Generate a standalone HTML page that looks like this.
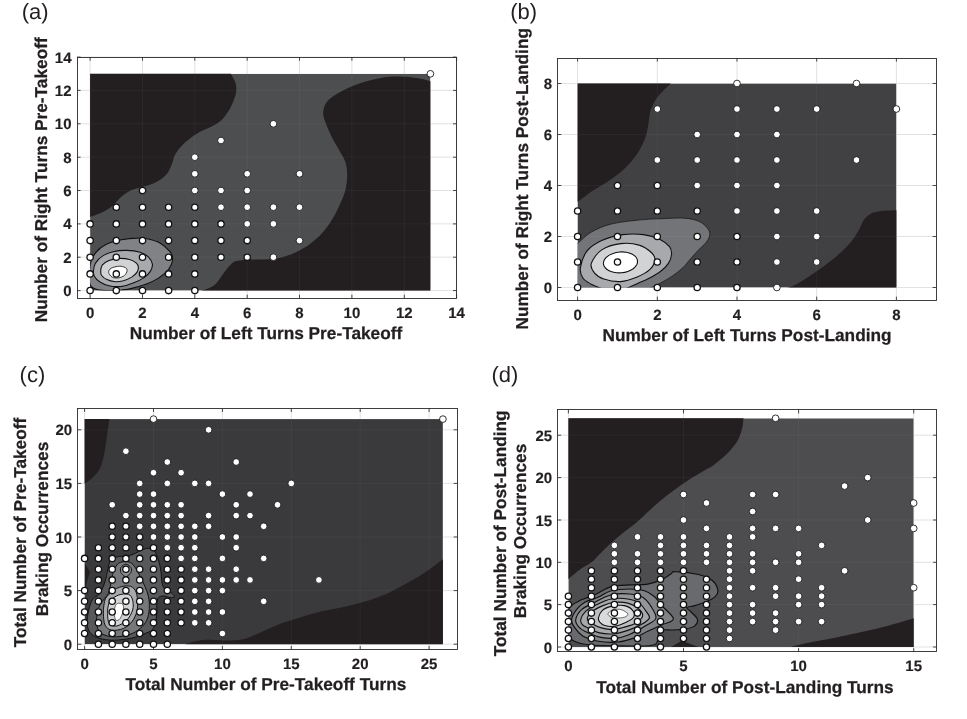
<!DOCTYPE html>
<html><head><meta charset="utf-8"><title>Figure</title>
<style>
html,body{margin:0;padding:0;background:#fff;}
svg{display:block;will-change:transform;}
text{font-family:"Liberation Sans",sans-serif;fill:#231f20;text-rendering:geometricPrecision;}
.tk text{font-size:15px;font-weight:bold;stroke:#231f20;stroke-width:0.15px;}
.al{font-size:17.25px;font-weight:bold;stroke:#231f20;stroke-width:0.25px;}
.pl{font-size:22px;}
</style></head><body>
<svg width="967" height="719" viewBox="0 0 967 719">
<rect width="967" height="719" fill="#fff"/>
<clipPath id="clipa"><rect x="90.1" y="73.8" width="340.3" height="216.8"/></clipPath>
<path d="M90.1 57.1V298.3M142.5 57.1V298.3M194.8 57.1V298.3M247.2 57.1V298.3M299.5 57.1V298.3M351.9 57.1V298.3M404.3 57.1V298.3M456.6 57.1V298.3M77.0 290.6H456.6M77.0 257.2H456.6M77.0 223.9H456.6M77.0 190.5H456.6M77.0 157.2H456.6M77.0 123.8H456.6M77.0 90.4H456.6M77.0 57.1H456.6" stroke="#e2e2e2" stroke-width="1" fill="none"/>
<g clip-path="url(#clipa)">
<rect x="90.1" y="73.8" width="340.3" height="216.8" fill="#4d4e50"/>
<path d="M231.0 74.0C231.8 75.5 234.6 80.0 235.5 83.0C236.4 86.0 236.6 88.5 236.2 91.7C235.8 94.9 234.4 98.5 233.0 102.0C231.6 105.5 230.0 109.1 227.5 112.6C225.0 116.1 223.1 119.5 218.0 123.0C212.9 126.5 202.9 129.9 197.2 133.4C191.5 136.9 187.3 140.3 183.7 143.8C180.0 147.3 177.3 150.8 175.3 154.3C173.3 157.8 173.2 161.2 171.6 164.7C170.0 168.2 168.9 172.0 165.9 175.1C162.9 178.2 159.0 181.1 153.4 183.5C147.8 185.9 137.8 187.6 132.6 189.7C127.4 191.8 125.6 193.3 122.1 196.1C118.6 198.9 115.2 203.7 111.7 206.5C108.2 209.3 104.8 211.1 101.3 212.8C97.8 214.5 92.2 216.2 90.4 216.9L85.0 216.9L85.0 70.0L231.0 70.0Z" fill="#231f20"/>
<path d="M430.6 81.3C428.6 80.8 424.3 79.0 418.5 78.2C412.7 77.4 402.9 76.3 395.6 76.5C388.3 76.7 381.7 77.7 374.7 79.2C367.7 80.7 360.1 83.1 353.8 85.5C347.6 87.9 341.7 91.0 337.2 93.8C332.7 96.6 329.0 99.0 326.7 102.1C324.4 105.2 323.4 109.1 323.2 112.6C323.0 116.1 324.2 118.8 325.7 123.0C327.2 127.2 329.6 132.7 332.0 137.6C334.4 142.5 338.1 148.0 340.3 152.2C342.6 156.4 344.4 158.8 345.5 162.6C346.6 166.4 347.2 170.6 347.2 175.1C347.2 179.6 346.6 185.0 345.5 189.7C344.4 194.4 342.4 198.7 340.3 203.4C338.2 208.1 335.9 213.1 333.0 218.0C330.1 222.9 326.4 228.3 322.6 232.6C318.8 236.9 314.5 240.7 310.0 244.0C305.5 247.3 300.4 250.1 295.5 252.4C290.6 254.7 285.5 256.5 280.9 257.6C276.3 258.7 272.1 258.9 268.0 259.2C263.9 259.5 259.4 259.5 256.0 259.6C252.6 259.7 250.3 259.5 247.3 259.7C244.3 259.9 240.4 260.3 238.0 260.8C235.6 261.3 235.0 260.9 232.7 262.8C230.4 264.7 227.1 268.7 224.3 272.2C221.5 275.7 218.7 281.0 216.0 283.7C213.3 286.4 210.4 287.4 208.0 288.6C205.6 289.8 202.5 290.4 201.4 290.8L201.4 295.0L436.0 295.0L436.0 81.3Z" fill="#231f20"/>
<path d="M90.3 264.1C91.3 259.0 92.9 256.0 95.5 252.8C98.1 249.5 101.5 246.6 105.9 244.5C110.2 242.3 116.2 240.9 121.4 239.8C126.5 238.8 132.6 238.2 136.9 238.1C141.2 237.9 143.3 237.9 147.2 238.8C151.2 239.7 156.9 241.3 160.7 243.4C164.5 245.6 168.0 249.3 170.0 251.7C172.0 254.1 172.4 255.7 172.6 257.9C172.7 260.2 172.1 262.7 171.0 265.2C169.9 267.6 168.1 270.2 165.8 272.4C163.6 274.6 160.7 276.7 157.6 278.6C154.5 280.5 151.5 282.1 147.2 283.8C142.9 285.4 136.0 287.4 131.7 288.4C127.4 289.5 125.7 289.6 121.4 290.0C117.1 290.3 110.2 290.7 105.9 290.5C101.5 290.3 98.2 290.1 95.5 288.9C92.8 287.8 90.7 287.9 89.8 283.8C89.0 279.6 89.4 269.3 90.3 264.1Z" fill="#808285" stroke="#111" stroke-width="1.1"/>
<path d="M93.4 271.4C93.6 269.1 94.0 265.7 95.5 263.1C97.1 260.5 99.8 257.7 102.8 255.9C105.7 254.0 109.1 252.6 113.1 251.7C117.1 250.8 122.1 250.3 126.5 250.4C131.0 250.5 136.4 251.1 140.0 252.2C143.6 253.3 146.2 254.9 148.3 256.9C150.3 258.9 152.0 261.7 152.4 264.1C152.7 266.5 151.7 269.1 150.3 271.4C148.9 273.6 146.9 275.7 144.1 277.6C141.4 279.5 137.6 281.3 133.8 282.7C130.0 284.2 125.5 285.8 121.4 286.4C117.2 286.9 112.6 286.6 109.0 285.8C105.3 285.1 102.1 283.3 99.6 281.7C97.2 280.2 95.5 278.3 94.5 276.5C93.4 274.8 93.3 273.6 93.4 271.4Z" fill="#a7a9ac" stroke="#111" stroke-width="1.1"/>
<path d="M100.7 271.4C100.8 269.6 100.9 267.0 102.2 265.2C103.6 263.4 106.1 261.6 109.0 260.5C111.8 259.4 115.8 258.6 119.3 258.4C122.7 258.3 126.8 258.7 129.6 259.5C132.5 260.2 134.9 261.8 136.4 263.1C137.8 264.4 138.3 265.7 138.4 267.2C138.5 268.8 138.0 270.8 136.9 272.4C135.8 274.0 133.9 275.7 131.7 277.1C129.5 278.4 126.2 279.9 123.4 280.7C120.7 281.4 117.9 281.9 115.2 281.7C112.4 281.5 109.1 280.7 106.9 279.6C104.6 278.6 102.8 276.9 101.7 275.5C100.7 274.1 100.6 273.1 100.7 271.4Z" fill="#d1d3d4" stroke="#111" stroke-width="1.1"/>
<path d="M108.7 272.4C108.6 270.9 109.3 269.3 111.0 268.3C112.8 267.2 116.9 266.3 119.3 266.2C121.7 266.1 124.2 267.0 125.5 267.7C126.8 268.5 127.2 269.6 127.1 270.8C126.9 272.1 125.9 274.3 124.5 275.5C123.0 276.7 120.3 277.6 118.3 277.9C116.2 278.1 113.6 278.0 112.1 277.1C110.5 276.1 108.9 273.9 108.7 272.4Z" fill="#ffffff" stroke="#111" stroke-width="0.8"/>
<path d="M90.1 57.1V298.3M142.5 57.1V298.3M194.8 57.1V298.3M247.2 57.1V298.3M299.5 57.1V298.3M351.9 57.1V298.3M404.3 57.1V298.3M456.6 57.1V298.3M77.0 290.6H456.6M77.0 257.2H456.6M77.0 223.9H456.6M77.0 190.5H456.6M77.0 157.2H456.6M77.0 123.8H456.6M77.0 90.4H456.6M77.0 57.1H456.6" stroke="#ffffff" stroke-opacity="0.04" stroke-width="1" fill="none"/>
</g>
<rect x="77.5" y="57.5" width="379.0" height="241.0" fill="none" stroke="#2b2b2b" stroke-width="0.9"/>
<path d="M90.1 298.3v-3.6M90.1 57.1v3.6M142.5 298.3v-3.6M142.5 57.1v3.6M194.8 298.3v-3.6M194.8 57.1v3.6M247.2 298.3v-3.6M247.2 57.1v3.6M299.5 298.3v-3.6M299.5 57.1v3.6M351.9 298.3v-3.6M351.9 57.1v3.6M404.3 298.3v-3.6M404.3 57.1v3.6M456.6 298.3v-3.6M456.6 57.1v3.6M77.0 290.6h3.6M456.6 290.6h-3.6M77.0 257.2h3.6M456.6 257.2h-3.6M77.0 223.9h3.6M456.6 223.9h-3.6M77.0 190.5h3.6M456.6 190.5h-3.6M77.0 157.2h3.6M456.6 157.2h-3.6M77.0 123.8h3.6M456.6 123.8h-3.6M77.0 90.4h3.6M456.6 90.4h-3.6M77.0 57.1h3.6M456.6 57.1h-3.6" stroke="#2b2b2b" stroke-width="0.85" fill="none"/>
<g fill="#fff" stroke="#111" stroke-width="0.85">
<circle cx="273.4" cy="257.2" r="3.35"/>
<circle cx="299.5" cy="240.6" r="3.35"/>
<circle cx="247.2" cy="223.9" r="3.35"/>
<circle cx="273.4" cy="223.9" r="3.35"/>
<circle cx="221.0" cy="207.2" r="3.35"/>
<circle cx="247.2" cy="207.2" r="3.35"/>
<circle cx="273.4" cy="207.2" r="3.35"/>
<circle cx="299.5" cy="207.2" r="3.35"/>
<circle cx="194.8" cy="190.5" r="3.35"/>
<circle cx="221.0" cy="190.5" r="3.35"/>
<circle cx="247.2" cy="190.5" r="3.35"/>
<circle cx="194.8" cy="173.8" r="3.35"/>
<circle cx="247.2" cy="173.8" r="3.35"/>
<circle cx="299.5" cy="173.8" r="3.35"/>
<circle cx="194.8" cy="157.2" r="3.35"/>
<circle cx="221.0" cy="140.5" r="3.35"/>
<circle cx="273.4" cy="123.8" r="3.35"/>
<circle cx="430.4" cy="73.8" r="3.35"/>
</g>
<g fill="#fff" stroke="#111" stroke-width="1.3">
<circle cx="90.1" cy="290.6" r="3.15"/>
<circle cx="116.3" cy="290.6" r="3.15"/>
<circle cx="142.5" cy="290.6" r="3.15"/>
<circle cx="168.6" cy="290.6" r="3.15"/>
<circle cx="194.8" cy="290.6" r="3.15"/>
<circle cx="90.1" cy="273.9" r="3.15"/>
<circle cx="116.3" cy="273.9" r="3.15"/>
<circle cx="142.5" cy="273.9" r="3.15"/>
<circle cx="168.6" cy="273.9" r="3.15"/>
<circle cx="194.8" cy="273.9" r="3.15"/>
<circle cx="90.1" cy="257.2" r="3.15"/>
<circle cx="116.3" cy="257.2" r="3.15"/>
<circle cx="142.5" cy="257.2" r="3.15"/>
<circle cx="168.6" cy="257.2" r="3.15"/>
<circle cx="194.8" cy="257.2" r="3.15"/>
<circle cx="221.0" cy="257.2" r="3.15"/>
<circle cx="247.2" cy="257.2" r="3.15"/>
<circle cx="90.1" cy="240.6" r="3.15"/>
<circle cx="116.3" cy="240.6" r="3.15"/>
<circle cx="142.5" cy="240.6" r="3.15"/>
<circle cx="168.6" cy="240.6" r="3.15"/>
<circle cx="194.8" cy="240.6" r="3.15"/>
<circle cx="221.0" cy="240.6" r="3.15"/>
<circle cx="247.2" cy="240.6" r="3.15"/>
<circle cx="90.1" cy="223.9" r="3.15"/>
<circle cx="116.3" cy="223.9" r="3.15"/>
<circle cx="142.5" cy="223.9" r="3.15"/>
<circle cx="168.6" cy="223.9" r="3.15"/>
<circle cx="194.8" cy="223.9" r="3.15"/>
<circle cx="221.0" cy="223.9" r="3.15"/>
<circle cx="116.3" cy="207.2" r="3.15"/>
<circle cx="142.5" cy="207.2" r="3.15"/>
<circle cx="168.6" cy="207.2" r="3.15"/>
<circle cx="194.8" cy="207.2" r="3.15"/>
<circle cx="142.5" cy="190.5" r="3.15"/>
</g>
<g class="tk">
<text x="90.1" y="317.7" text-anchor="middle">0</text>
<text x="142.5" y="317.7" text-anchor="middle">2</text>
<text x="194.8" y="317.7" text-anchor="middle">4</text>
<text x="247.2" y="317.7" text-anchor="middle">6</text>
<text x="299.5" y="317.7" text-anchor="middle">8</text>
<text x="351.9" y="317.7" text-anchor="middle">10</text>
<text x="404.3" y="317.7" text-anchor="middle">12</text>
<text x="456.6" y="317.7" text-anchor="middle">14</text>
<text x="71.5" y="296.1" text-anchor="end">0</text>
<text x="71.5" y="262.7" text-anchor="end">2</text>
<text x="71.5" y="229.4" text-anchor="end">4</text>
<text x="71.5" y="196.0" text-anchor="end">6</text>
<text x="71.5" y="162.7" text-anchor="end">8</text>
<text x="71.5" y="129.3" text-anchor="end">10</text>
<text x="71.5" y="95.9" text-anchor="end">12</text>
<text x="71.5" y="62.6" text-anchor="end">14</text>
</g>
<clipPath id="clipb"><rect x="577.6" y="83.5" width="318.8" height="204.0"/></clipPath>
<path d="M577.6 58.0V300.2M657.3 58.0V300.2M737.0 58.0V300.2M816.7 58.0V300.2M896.4 58.0V300.2M557.7 287.5H936.2M557.7 236.5H936.2M557.7 185.5H936.2M557.7 134.5H936.2M557.7 83.5H936.2" stroke="#e2e2e2" stroke-width="1" fill="none"/>
<g clip-path="url(#clipb)">
<rect x="577.6" y="83.5" width="318.8" height="204.0" fill="#414042"/>
<path d="M670.5 83.8C668.4 85.9 661.3 92.1 658.0 96.5C654.7 100.9 652.3 105.7 650.7 110.0C649.1 114.3 649.5 118.1 648.6 122.6C647.7 127.1 647.4 132.0 645.5 137.2C643.6 142.4 640.7 148.6 637.2 153.8C633.7 159.0 629.2 164.1 624.7 168.4C620.2 172.8 615.2 176.2 610.0 179.9C604.8 183.6 598.8 186.7 593.4 190.3C588.0 194.0 580.4 199.9 577.8 201.8L570.0 201.8L570.0 80.0L670.5 80.0Z" fill="#231f20"/>
<path d="M896.6 210.2C894.1 210.3 886.0 210.4 881.8 210.9C877.6 211.4 874.3 212.0 871.4 213.4C868.5 214.8 866.2 216.8 864.1 219.6C862.0 222.4 861.2 226.2 858.9 230.0C856.6 233.8 854.0 238.4 850.5 242.6C847.0 246.8 842.5 251.1 838.0 255.1C833.5 259.1 828.6 262.7 823.4 266.5C818.2 270.3 811.6 274.9 806.7 278.0C801.8 281.1 797.7 283.6 794.2 285.3C790.7 287.0 787.3 287.9 785.9 288.4L785.9 295.0L902.0 295.0L902.0 210.2Z" fill="#231f20"/>
<path d="M568.3 249.9C569.8 241.5 573.5 246.6 577.3 243.6C581.1 240.7 585.5 235.4 591.3 232.1C597.1 228.8 603.4 225.9 612.1 223.8C620.8 221.7 634.7 220.5 643.4 219.6C652.1 218.8 657.3 218.8 664.3 218.6C671.2 218.3 679.2 217.6 685.1 218.2C691.0 218.7 695.9 219.9 699.7 221.7C703.6 223.5 706.4 226.8 708.1 229.0C709.7 231.3 710.1 233.0 709.7 235.3C709.4 237.5 708.0 240.0 706.0 242.6C704.0 245.2 700.4 248.0 697.6 250.9C694.9 253.9 691.7 257.5 689.3 260.3C686.9 263.1 685.8 265.0 683.0 267.6C680.3 270.2 676.4 273.3 672.6 275.9C668.8 278.5 663.6 281.3 660.1 283.2C656.6 285.1 655.2 285.7 651.8 287.4C648.3 289.1 647.6 292.1 639.2 293.7C630.9 295.2 613.5 296.8 601.7 296.8C589.9 296.8 573.9 301.5 568.3 293.7C562.8 285.8 566.8 258.2 568.3 249.9Z" fill="#737477" stroke="#111" stroke-width="0.7"/>
<path d="M580.4 267.6C581.1 263.1 583.6 255.4 587.1 250.9C590.7 246.4 595.8 243.2 601.7 240.5C607.6 237.8 615.6 235.6 622.6 234.6C629.5 233.7 637.2 233.8 643.4 234.6C649.7 235.4 655.8 237.4 660.1 239.4C664.4 241.5 667.6 244.3 669.5 246.7C671.4 249.2 671.7 251.3 671.6 254.0C671.4 256.8 670.4 260.5 668.4 263.4C666.5 266.4 663.6 269.2 660.1 271.8C656.6 274.4 652.5 276.6 647.6 279.1C642.7 281.5 635.4 284.4 630.9 286.4C626.4 288.3 624.3 289.8 620.5 290.5C616.7 291.2 611.4 291.0 608.0 290.5C604.5 290.1 602.4 288.9 599.6 287.8C596.8 286.8 594.1 285.9 591.3 284.3C588.5 282.6 584.7 280.8 582.9 278.0C581.1 275.2 579.7 272.1 580.4 267.6Z" fill="#a7a9ac" stroke="#111" stroke-width="1.1"/>
<path d="M591.3 263.4C592.5 259.6 596.8 253.2 601.7 249.9C606.6 246.6 614.2 244.4 620.5 243.6C626.7 242.8 634.0 243.5 639.2 245.1C644.5 246.6 649.2 250.5 651.8 253.0C654.4 255.5 655.2 257.5 654.9 260.3C654.5 263.1 652.6 266.9 649.7 269.7C646.7 272.5 642.0 275.0 637.2 277.0C632.3 279.0 626.0 281.2 620.5 281.6C614.9 281.9 608.1 280.5 603.8 279.1C599.5 277.6 596.5 275.4 594.4 272.8C592.3 270.2 590.1 267.2 591.3 263.4Z" fill="#d1d3d4" stroke="#111" stroke-width="1.1"/>
<path d="M637.5 260.9C637.6 262.2 637.3 263.7 636.6 265.0C635.8 266.3 634.6 267.6 633.2 268.7C631.7 269.7 629.8 270.7 627.8 271.4C625.9 272.1 623.6 272.6 621.4 272.8C619.2 273.0 616.9 272.9 614.8 272.5C612.7 272.2 610.7 271.6 609.1 270.8C607.5 270.0 606.0 268.9 605.1 267.7C604.1 266.6 603.6 265.2 603.4 263.9C603.3 262.5 603.7 261.1 604.4 259.8C605.1 258.5 606.3 257.2 607.8 256.1C609.2 255.0 611.2 254.0 613.1 253.4C615.1 252.7 617.4 252.2 619.6 252.0C621.7 251.8 624.1 251.9 626.2 252.2C628.2 252.5 630.3 253.2 631.9 254.0C633.5 254.8 634.9 255.9 635.9 257.0C636.8 258.2 637.4 259.6 637.5 260.9Z" fill="#ffffff" stroke="#111" stroke-width="1.1"/>
<path d="M577.6 58.0V300.2M657.3 58.0V300.2M737.0 58.0V300.2M816.7 58.0V300.2M896.4 58.0V300.2M557.7 287.5H936.2M557.7 236.5H936.2M557.7 185.5H936.2M557.7 134.5H936.2M557.7 83.5H936.2" stroke="#ffffff" stroke-opacity="0.04" stroke-width="1" fill="none"/>
</g>
<rect x="557.5" y="58.5" width="379.0" height="242.0" fill="none" stroke="#2b2b2b" stroke-width="0.9"/>
<path d="M577.6 300.2v-3.6M577.6 58.0v3.6M657.3 300.2v-3.6M657.3 58.0v3.6M737.0 300.2v-3.6M737.0 58.0v3.6M816.7 300.2v-3.6M816.7 58.0v3.6M896.4 300.2v-3.6M896.4 58.0v3.6M557.7 287.5h3.6M936.2 287.5h-3.6M557.7 236.5h3.6M936.2 236.5h-3.6M557.7 185.5h3.6M936.2 185.5h-3.6M557.7 134.5h3.6M936.2 134.5h-3.6M557.7 83.5h3.6M936.2 83.5h-3.6" stroke="#2b2b2b" stroke-width="0.85" fill="none"/>
<g fill="#fff" stroke="#111" stroke-width="0.85">
<circle cx="737.0" cy="83.5" r="3.35"/>
<circle cx="856.5" cy="83.5" r="3.35"/>
<circle cx="657.3" cy="109.0" r="3.35"/>
<circle cx="737.0" cy="109.0" r="3.35"/>
<circle cx="776.9" cy="109.0" r="3.35"/>
<circle cx="816.7" cy="109.0" r="3.35"/>
<circle cx="896.4" cy="109.0" r="3.35"/>
<circle cx="697.2" cy="134.5" r="3.35"/>
<circle cx="737.0" cy="134.5" r="3.35"/>
<circle cx="776.9" cy="134.5" r="3.35"/>
<circle cx="657.3" cy="160.0" r="3.35"/>
<circle cx="697.2" cy="160.0" r="3.35"/>
<circle cx="737.0" cy="160.0" r="3.35"/>
<circle cx="776.9" cy="160.0" r="3.35"/>
<circle cx="856.5" cy="160.0" r="3.35"/>
<circle cx="697.2" cy="185.5" r="3.35"/>
<circle cx="737.0" cy="185.5" r="3.35"/>
<circle cx="776.9" cy="185.5" r="3.35"/>
<circle cx="737.0" cy="211.0" r="3.35"/>
<circle cx="776.9" cy="211.0" r="3.35"/>
<circle cx="816.7" cy="211.0" r="3.35"/>
<circle cx="776.9" cy="236.5" r="3.35"/>
<circle cx="816.7" cy="236.5" r="3.35"/>
<circle cx="776.9" cy="262.0" r="3.35"/>
<circle cx="816.7" cy="262.0" r="3.35"/>
<circle cx="776.9" cy="287.5" r="3.35"/>
</g>
<g fill="#fff" stroke="#111" stroke-width="1.3">
<circle cx="617.5" cy="185.5" r="3.15"/>
<circle cx="657.3" cy="185.5" r="3.15"/>
<circle cx="577.6" cy="211.0" r="3.15"/>
<circle cx="617.5" cy="211.0" r="3.15"/>
<circle cx="657.3" cy="211.0" r="3.15"/>
<circle cx="697.2" cy="211.0" r="3.15"/>
<circle cx="577.6" cy="236.5" r="3.15"/>
<circle cx="617.5" cy="236.5" r="3.15"/>
<circle cx="657.3" cy="236.5" r="3.15"/>
<circle cx="697.2" cy="236.5" r="3.15"/>
<circle cx="737.0" cy="236.5" r="3.15"/>
<circle cx="577.6" cy="262.0" r="3.15"/>
<circle cx="617.5" cy="262.0" r="3.15"/>
<circle cx="657.3" cy="262.0" r="3.15"/>
<circle cx="697.2" cy="262.0" r="3.15"/>
<circle cx="737.0" cy="262.0" r="3.15"/>
<circle cx="577.6" cy="287.5" r="3.15"/>
<circle cx="617.5" cy="287.5" r="3.15"/>
<circle cx="657.3" cy="287.5" r="3.15"/>
<circle cx="697.2" cy="287.5" r="3.15"/>
<circle cx="737.0" cy="287.5" r="3.15"/>
</g>
<g class="tk">
<text x="577.6" y="319.6" text-anchor="middle">0</text>
<text x="657.3" y="319.6" text-anchor="middle">2</text>
<text x="737.0" y="319.6" text-anchor="middle">4</text>
<text x="816.7" y="319.6" text-anchor="middle">6</text>
<text x="896.4" y="319.6" text-anchor="middle">8</text>
<text x="552.2" y="293.0" text-anchor="end">0</text>
<text x="552.2" y="242.0" text-anchor="end">2</text>
<text x="552.2" y="191.0" text-anchor="end">4</text>
<text x="552.2" y="140.0" text-anchor="end">6</text>
<text x="552.2" y="89.0" text-anchor="end">8</text>
</g>
<clipPath id="clipc"><rect x="84.6" y="419.1" width="358.3" height="225.1"/></clipPath>
<path d="M84.6 408.4V649.6M153.5 408.4V649.6M222.4 408.4V649.6M291.3 408.4V649.6M360.2 408.4V649.6M429.1 408.4V649.6M77.7 644.2H457.3M77.7 590.6H457.3M77.7 537.0H457.3M77.7 483.4H457.3M77.7 429.8H457.3" stroke="#e2e2e2" stroke-width="1" fill="none"/>
<g clip-path="url(#clipc)">
<rect x="84.6" y="419.1" width="358.3" height="225.1" fill="#3a3a3c"/>
<path d="M109.5 418.2C109.2 420.6 108.3 426.7 107.4 432.6C106.5 438.5 105.5 447.5 104.3 453.4C103.1 459.3 101.8 464.2 100.1 468.0C98.3 471.8 96.4 473.8 93.8 476.4C91.2 479.0 86.1 482.5 84.6 483.7L80.0 483.7L80.0 414.0L109.5 414.0Z" fill="#231f20"/>
<path d="M185.5 644.4C186.9 643.9 190.7 642.4 193.8 641.6C196.9 640.9 199.1 640.1 204.3 639.9C209.5 639.7 218.8 640.6 225.1 640.5C231.3 640.4 236.6 640.5 241.8 639.5C247.0 638.5 250.5 636.7 256.4 634.3C262.3 631.9 270.0 627.7 277.3 624.9C284.6 622.1 292.6 619.9 300.0 617.6C307.4 615.3 314.6 613.0 321.7 611.3C328.8 609.6 335.7 608.8 342.6 607.2C349.6 605.7 356.4 604.1 363.4 602.0C370.3 599.9 377.4 597.7 384.3 594.7C391.2 591.7 398.2 588.0 405.1 584.2C412.1 580.4 419.7 575.9 426.0 571.7C432.3 567.5 440.2 561.3 443.1 559.2L448.0 559.2L448.0 650.0L185.5 650.0Z" fill="#231f20"/>
<path d="M84.6 563.0L90.0 572.0L87.0 582.0L84.6 592.0Z" fill="#231f20"/>
<path d="M148.5 548.4C150.5 548.5 152.6 548.9 154.3 550.9C156.0 552.8 157.4 556.6 158.5 560.1C159.6 563.5 160.4 568.1 161.0 571.7C161.5 575.4 161.3 579.0 161.8 581.8C162.4 584.5 162.8 586.6 164.3 588.4C165.8 590.2 169.3 591.2 171.0 592.6C172.7 594.0 174.8 595.9 174.7 596.8C174.5 597.6 172.0 597.8 170.2 597.6C168.3 597.5 165.4 595.9 163.5 595.9C161.5 595.9 159.6 596.4 158.5 597.6C157.4 598.9 157.1 600.8 156.8 603.5C156.5 606.1 157.1 610.1 156.8 613.5C156.5 616.8 156.0 620.7 155.1 623.5C154.3 626.3 153.5 628.5 151.8 630.2C150.1 631.8 147.6 632.4 145.1 633.5C142.6 634.6 140.1 635.9 136.8 636.8C133.4 637.8 129.3 638.8 125.1 639.3C120.9 639.9 115.9 640.3 111.7 640.2C107.6 640.0 103.4 639.5 100.0 638.5C96.7 637.5 93.8 636.3 91.7 634.3C89.6 632.4 88.2 629.7 87.5 626.8C86.8 623.9 87.1 620.4 87.5 616.8C87.9 613.2 89.1 608.2 90.0 605.1C91.0 602.1 92.0 600.1 93.4 598.4C94.8 596.8 96.8 596.8 98.4 595.1C99.9 593.4 101.3 591.2 102.5 588.4C103.8 585.6 104.9 582.0 105.9 578.4C106.9 574.8 107.6 569.8 108.4 566.7C109.2 563.7 109.2 561.7 110.9 560.1C112.6 558.4 115.5 557.4 118.4 556.7C121.3 556.0 125.6 556.4 128.4 555.9C131.2 555.3 132.9 554.3 135.1 553.4C137.3 552.4 139.6 550.9 141.8 550.0C144.0 549.2 146.4 548.2 148.5 548.4Z" fill="#58595b" stroke="#111" stroke-width="1.0"/>
<path d="M125.9 561.7C123.7 561.7 120.5 561.7 118.4 563.4C116.3 565.1 114.6 568.4 113.4 571.7C112.1 575.1 111.7 579.8 110.9 583.4C110.1 587.0 109.6 590.7 108.4 593.4C107.1 596.2 105.1 597.6 103.4 600.1C101.7 602.6 99.5 605.1 98.4 608.5C97.3 611.8 96.7 616.5 96.7 620.2C96.7 623.8 97.0 627.7 98.4 630.2C99.8 632.7 102.0 634.1 105.1 635.2C108.1 636.3 112.6 637.0 116.7 636.8C120.9 636.7 126.2 635.7 130.1 634.3C134.0 632.9 137.3 630.9 140.1 628.5C142.9 626.1 145.3 623.5 146.8 620.2C148.3 616.8 149.0 612.4 149.3 608.5C149.6 604.6 149.2 600.4 148.5 596.8C147.8 593.2 146.4 589.8 145.1 586.8C143.9 583.7 142.3 581.2 140.9 578.4C139.6 575.6 138.3 572.6 136.8 570.1C135.2 567.6 133.6 564.8 131.8 563.4C130.0 562.0 128.1 561.7 125.9 561.7Z" fill="#77787b" stroke="#111" stroke-width="1.0"/>
<path d="M125.9 564.2C127.6 564.2 130.1 566.2 130.9 567.6C131.8 569.0 131.5 571.2 130.9 572.6C130.4 574.0 128.4 574.7 127.6 575.9C126.8 577.2 126.5 580.1 125.9 580.1C125.4 580.1 125.1 577.2 124.2 575.9C123.4 574.7 121.5 574.0 120.9 572.6C120.4 571.2 120.1 569.0 120.9 567.6C121.7 566.2 124.2 564.2 125.9 564.2Z" fill="#8a8c8e" stroke="#111" stroke-width="1.0"/>
<path d="M106.7 596.8C108.8 594.3 113.1 590.2 116.7 588.4C120.4 586.6 125.4 585.6 128.4 585.9C131.5 586.2 133.6 587.7 135.1 590.1C136.6 592.5 137.3 596.5 137.6 600.1C137.9 603.7 137.7 608.2 136.8 611.8C135.8 615.4 134.0 619.0 131.8 621.8C129.5 624.6 126.8 627.1 123.4 628.5C120.1 629.9 114.8 630.7 111.7 630.2C108.7 629.6 106.4 627.9 105.1 625.2C103.7 622.4 103.5 617.1 103.4 613.5C103.2 609.9 103.7 606.2 104.2 603.5C104.8 600.7 104.6 599.3 106.7 596.8Z" fill="#a7a9ac" stroke="#111" stroke-width="1.0"/>
<path d="M110.9 600.1C112.6 598.4 115.5 596.1 118.4 595.1C121.3 594.1 126.1 593.4 128.4 594.3C130.8 595.1 131.9 597.5 132.6 600.1C133.3 602.8 133.6 606.8 132.6 610.1C131.6 613.5 129.4 617.5 126.8 620.2C124.1 622.8 119.7 625.4 116.7 626.0C113.8 626.5 110.8 625.6 109.2 623.5C107.7 621.4 107.7 616.5 107.6 613.5C107.4 610.4 107.8 607.4 108.4 605.1C108.9 602.9 109.2 601.8 110.9 600.1Z" fill="#d1d3d4" stroke="#111" stroke-width="1.0"/>
<path d="M117.6 603.5C118.8 603.0 121.6 603.2 122.6 604.3C123.6 605.4 123.8 607.8 123.4 610.1C123.0 612.5 121.3 616.8 120.1 618.5C118.8 620.2 116.9 621.0 115.9 620.2C114.9 619.3 114.4 615.7 114.2 613.5C114.1 611.2 114.5 608.5 115.1 606.8C115.6 605.1 116.3 603.9 117.6 603.5Z" fill="#ffffff" stroke="#111" stroke-width="0.6"/>
<path d="M84.6 408.4V649.6M153.5 408.4V649.6M222.4 408.4V649.6M291.3 408.4V649.6M360.2 408.4V649.6M429.1 408.4V649.6M77.7 644.2H457.3M77.7 590.6H457.3M77.7 537.0H457.3M77.7 483.4H457.3M77.7 429.8H457.3" stroke="#ffffff" stroke-opacity="0.04" stroke-width="1" fill="none"/>
</g>
<rect x="77.5" y="408.5" width="380.0" height="241.0" fill="none" stroke="#2b2b2b" stroke-width="0.9"/>
<path d="M84.6 649.6v-3.6M84.6 408.4v3.6M153.5 649.6v-3.6M153.5 408.4v3.6M222.4 649.6v-3.6M222.4 408.4v3.6M291.3 649.6v-3.6M291.3 408.4v3.6M360.2 649.6v-3.6M360.2 408.4v3.6M429.1 649.6v-3.6M429.1 408.4v3.6M77.7 644.2h3.6M457.3 644.2h-3.6M77.7 590.6h3.6M457.3 590.6h-3.6M77.7 537.0h3.6M457.3 537.0h-3.6M77.7 483.4h3.6M457.3 483.4h-3.6M77.7 429.8h3.6M457.3 429.8h-3.6" stroke="#2b2b2b" stroke-width="0.85" fill="none"/>
<g fill="#fff" stroke="#111" stroke-width="0.85">
<circle cx="153.5" cy="419.1" r="3.35"/>
<circle cx="442.9" cy="419.1" r="3.35"/>
<circle cx="208.6" cy="429.8" r="3.35"/>
<circle cx="125.9" cy="451.2" r="3.35"/>
<circle cx="167.3" cy="462.0" r="3.35"/>
<circle cx="236.2" cy="462.0" r="3.35"/>
<circle cx="153.5" cy="472.7" r="3.35"/>
<circle cx="181.1" cy="472.7" r="3.35"/>
<circle cx="139.7" cy="483.4" r="3.35"/>
<circle cx="167.3" cy="483.4" r="3.35"/>
<circle cx="194.8" cy="483.4" r="3.35"/>
<circle cx="208.6" cy="483.4" r="3.35"/>
<circle cx="291.3" cy="483.4" r="3.35"/>
<circle cx="139.7" cy="494.1" r="3.35"/>
<circle cx="153.5" cy="494.1" r="3.35"/>
<circle cx="222.4" cy="494.1" r="3.35"/>
<circle cx="250.0" cy="494.1" r="3.35"/>
<circle cx="112.2" cy="504.8" r="3.35"/>
<circle cx="139.7" cy="504.8" r="3.35"/>
<circle cx="153.5" cy="504.8" r="3.35"/>
<circle cx="167.3" cy="504.8" r="3.35"/>
<circle cx="181.1" cy="504.8" r="3.35"/>
<circle cx="236.2" cy="504.8" r="3.35"/>
<circle cx="277.5" cy="504.8" r="3.35"/>
<circle cx="125.9" cy="515.6" r="3.35"/>
<circle cx="139.7" cy="515.6" r="3.35"/>
<circle cx="153.5" cy="515.6" r="3.35"/>
<circle cx="167.3" cy="515.6" r="3.35"/>
<circle cx="181.1" cy="515.6" r="3.35"/>
<circle cx="208.6" cy="515.6" r="3.35"/>
<circle cx="236.2" cy="515.6" r="3.35"/>
<circle cx="250.0" cy="515.6" r="3.35"/>
<circle cx="139.7" cy="526.3" r="3.35"/>
<circle cx="153.5" cy="526.3" r="3.35"/>
<circle cx="167.3" cy="526.3" r="3.35"/>
<circle cx="181.1" cy="526.3" r="3.35"/>
<circle cx="194.8" cy="526.3" r="3.35"/>
<circle cx="208.6" cy="526.3" r="3.35"/>
<circle cx="263.7" cy="526.3" r="3.35"/>
<circle cx="153.5" cy="537.0" r="3.35"/>
<circle cx="167.3" cy="537.0" r="3.35"/>
<circle cx="181.1" cy="537.0" r="3.35"/>
<circle cx="194.8" cy="537.0" r="3.35"/>
<circle cx="222.4" cy="537.0" r="3.35"/>
<circle cx="236.2" cy="537.0" r="3.35"/>
<circle cx="167.3" cy="547.7" r="3.35"/>
<circle cx="181.1" cy="547.7" r="3.35"/>
<circle cx="194.8" cy="547.7" r="3.35"/>
<circle cx="236.2" cy="547.7" r="3.35"/>
<circle cx="181.1" cy="558.4" r="3.35"/>
<circle cx="194.8" cy="558.4" r="3.35"/>
<circle cx="222.4" cy="558.4" r="3.35"/>
<circle cx="263.7" cy="558.4" r="3.35"/>
<circle cx="194.8" cy="569.2" r="3.35"/>
<circle cx="208.6" cy="569.2" r="3.35"/>
<circle cx="236.2" cy="569.2" r="3.35"/>
<circle cx="194.8" cy="579.9" r="3.35"/>
<circle cx="208.6" cy="579.9" r="3.35"/>
<circle cx="222.4" cy="579.9" r="3.35"/>
<circle cx="236.2" cy="579.9" r="3.35"/>
<circle cx="250.0" cy="579.9" r="3.35"/>
<circle cx="318.9" cy="579.9" r="3.35"/>
<circle cx="194.8" cy="590.6" r="3.35"/>
<circle cx="208.6" cy="590.6" r="3.35"/>
<circle cx="222.4" cy="590.6" r="3.35"/>
<circle cx="194.8" cy="601.3" r="3.35"/>
<circle cx="208.6" cy="601.3" r="3.35"/>
<circle cx="263.7" cy="601.3" r="3.35"/>
<circle cx="194.8" cy="612.0" r="3.35"/>
<circle cx="208.6" cy="612.0" r="3.35"/>
<circle cx="222.4" cy="612.0" r="3.35"/>
<circle cx="194.8" cy="622.8" r="3.35"/>
<circle cx="208.6" cy="622.8" r="3.35"/>
<circle cx="222.4" cy="633.5" r="3.35"/>
</g>
<g fill="#fff" stroke="#111" stroke-width="1.3">
<circle cx="112.2" cy="526.3" r="3.15"/>
<circle cx="125.9" cy="526.3" r="3.15"/>
<circle cx="112.2" cy="537.0" r="3.15"/>
<circle cx="125.9" cy="537.0" r="3.15"/>
<circle cx="139.7" cy="537.0" r="3.15"/>
<circle cx="98.4" cy="547.7" r="3.15"/>
<circle cx="112.2" cy="547.7" r="3.15"/>
<circle cx="125.9" cy="547.7" r="3.15"/>
<circle cx="139.7" cy="547.7" r="3.15"/>
<circle cx="153.5" cy="547.7" r="3.15"/>
<circle cx="84.6" cy="558.4" r="3.15"/>
<circle cx="98.4" cy="558.4" r="3.15"/>
<circle cx="112.2" cy="558.4" r="3.15"/>
<circle cx="125.9" cy="558.4" r="3.15"/>
<circle cx="139.7" cy="558.4" r="3.15"/>
<circle cx="153.5" cy="558.4" r="3.15"/>
<circle cx="167.3" cy="558.4" r="3.15"/>
<circle cx="98.4" cy="569.2" r="3.15"/>
<circle cx="112.2" cy="569.2" r="3.15"/>
<circle cx="125.9" cy="569.2" r="3.15"/>
<circle cx="139.7" cy="569.2" r="3.15"/>
<circle cx="153.5" cy="569.2" r="3.15"/>
<circle cx="167.3" cy="569.2" r="3.15"/>
<circle cx="181.1" cy="569.2" r="3.15"/>
<circle cx="98.4" cy="579.9" r="3.15"/>
<circle cx="112.2" cy="579.9" r="3.15"/>
<circle cx="125.9" cy="579.9" r="3.15"/>
<circle cx="139.7" cy="579.9" r="3.15"/>
<circle cx="153.5" cy="579.9" r="3.15"/>
<circle cx="167.3" cy="579.9" r="3.15"/>
<circle cx="181.1" cy="579.9" r="3.15"/>
<circle cx="84.6" cy="590.6" r="3.15"/>
<circle cx="98.4" cy="590.6" r="3.15"/>
<circle cx="112.2" cy="590.6" r="3.15"/>
<circle cx="125.9" cy="590.6" r="3.15"/>
<circle cx="139.7" cy="590.6" r="3.15"/>
<circle cx="153.5" cy="590.6" r="3.15"/>
<circle cx="167.3" cy="590.6" r="3.15"/>
<circle cx="181.1" cy="590.6" r="3.15"/>
<circle cx="84.6" cy="601.3" r="3.15"/>
<circle cx="98.4" cy="601.3" r="3.15"/>
<circle cx="112.2" cy="601.3" r="3.15"/>
<circle cx="125.9" cy="601.3" r="3.15"/>
<circle cx="139.7" cy="601.3" r="3.15"/>
<circle cx="153.5" cy="601.3" r="3.15"/>
<circle cx="167.3" cy="601.3" r="3.15"/>
<circle cx="181.1" cy="601.3" r="3.15"/>
<circle cx="84.6" cy="612.0" r="3.15"/>
<circle cx="98.4" cy="612.0" r="3.15"/>
<circle cx="112.2" cy="612.0" r="3.15"/>
<circle cx="125.9" cy="612.0" r="3.15"/>
<circle cx="139.7" cy="612.0" r="3.15"/>
<circle cx="153.5" cy="612.0" r="3.15"/>
<circle cx="167.3" cy="612.0" r="3.15"/>
<circle cx="181.1" cy="612.0" r="3.15"/>
<circle cx="84.6" cy="622.8" r="3.15"/>
<circle cx="98.4" cy="622.8" r="3.15"/>
<circle cx="112.2" cy="622.8" r="3.15"/>
<circle cx="125.9" cy="622.8" r="3.15"/>
<circle cx="139.7" cy="622.8" r="3.15"/>
<circle cx="153.5" cy="622.8" r="3.15"/>
<circle cx="167.3" cy="622.8" r="3.15"/>
<circle cx="181.1" cy="622.8" r="3.15"/>
<circle cx="84.6" cy="633.5" r="3.15"/>
<circle cx="98.4" cy="633.5" r="3.15"/>
<circle cx="112.2" cy="633.5" r="3.15"/>
<circle cx="125.9" cy="633.5" r="3.15"/>
<circle cx="139.7" cy="633.5" r="3.15"/>
<circle cx="153.5" cy="633.5" r="3.15"/>
<circle cx="167.3" cy="633.5" r="3.15"/>
<circle cx="98.4" cy="644.2" r="3.15"/>
<circle cx="112.2" cy="644.2" r="3.15"/>
<circle cx="125.9" cy="644.2" r="3.15"/>
<circle cx="139.7" cy="644.2" r="3.15"/>
<circle cx="153.5" cy="644.2" r="3.15"/>
<circle cx="167.3" cy="644.2" r="3.15"/>
</g>
<g class="tk">
<text x="84.6" y="669.0" text-anchor="middle">0</text>
<text x="153.5" y="669.0" text-anchor="middle">5</text>
<text x="222.4" y="669.0" text-anchor="middle">10</text>
<text x="291.3" y="669.0" text-anchor="middle">15</text>
<text x="360.2" y="669.0" text-anchor="middle">20</text>
<text x="429.1" y="669.0" text-anchor="middle">25</text>
<text x="72.2" y="649.7" text-anchor="end">0</text>
<text x="72.2" y="596.1" text-anchor="end">5</text>
<text x="72.2" y="542.5" text-anchor="end">10</text>
<text x="72.2" y="488.9" text-anchor="end">15</text>
<text x="72.2" y="435.3" text-anchor="end">20</text>
</g>
<clipPath id="clipd"><rect x="568.4" y="418.3" width="345.3" height="228.7"/></clipPath>
<path d="M568.4 409.8V651.7M683.5 409.8V651.7M798.6 409.8V651.7M913.7 409.8V651.7M557.6 647.0H936.7M557.6 604.6H936.7M557.6 562.3H936.7M557.6 520.0H936.7M557.6 477.6H936.7M557.6 435.2H936.7" stroke="#e2e2e2" stroke-width="1" fill="none"/>
<g clip-path="url(#clipd)">
<rect x="568.4" y="418.3" width="345.3" height="228.7" fill="#4d4d4f"/>
<path d="M743.4 418.2C743.2 419.7 743.3 423.5 742.4 427.1C741.5 430.7 740.5 435.4 738.2 439.6C735.9 443.8 732.8 447.9 728.8 452.1C724.8 456.3 718.3 461.6 714.2 464.7C710.1 467.8 709.1 467.5 704.3 470.4C699.5 473.3 691.9 477.7 685.6 481.9C679.4 486.1 672.4 491.1 666.8 495.5C661.2 499.9 657.1 503.7 652.2 508.0C647.3 512.3 642.5 517.3 637.6 521.5C632.7 525.7 627.5 529.4 623.0 533.0C618.5 536.6 614.3 539.9 610.5 543.4C606.7 546.9 603.1 550.7 600.0 553.8C596.9 556.9 594.8 559.8 591.7 562.2C588.6 564.6 585.2 565.6 581.3 568.4C577.4 571.2 570.5 577.1 568.4 578.9L560.0 578.9L560.0 410.0L743.4 410.0Z" fill="#231f20"/>
<path d="M913.7 618.2C908.9 619.6 895.1 623.9 885.1 626.5C875.1 629.1 864.2 631.5 853.8 633.8C843.4 636.1 831.3 638.4 822.6 640.1C813.9 641.9 806.9 643.2 801.7 644.3C796.5 645.4 793.0 646.4 791.3 646.8L791.3 655.0L920.0 655.0L920.0 618.2Z" fill="#231f20"/>
<path d="M671.0 647.0L681.8 640.7L698.4 647.0Z" fill="#231f20"/>
<path d="M569.1 608.1C571.3 604.4 575.6 602.8 579.8 600.6C584.1 598.4 589.5 597.2 594.7 594.8C600.0 592.5 605.2 588.2 611.3 586.6C617.4 584.9 625.1 585.3 631.2 584.9C637.2 584.5 642.7 584.9 647.7 584.1C652.7 583.2 657.1 581.6 661.0 579.9C664.8 578.3 668.5 575.5 670.9 574.1C673.2 572.7 670.5 571.5 675.0 571.6C679.6 571.6 692.2 573.0 698.4 574.5C704.6 576.0 708.8 577.7 712.0 580.3C715.3 582.9 717.4 587.3 717.9 590.1C718.3 592.8 716.9 594.9 714.9 596.9C713.0 598.8 709.6 600.3 706.2 601.8C702.8 603.2 697.7 604.7 694.5 605.6C691.3 606.6 687.4 606.6 686.7 607.6C686.1 608.6 688.8 609.5 690.6 611.5C692.4 613.4 696.8 616.8 697.4 619.3C698.1 621.7 696.6 624.5 694.5 626.1C692.4 627.7 688.3 628.4 684.8 629.0C681.2 629.7 677.3 629.7 673.1 630.0C668.9 630.3 662.6 628.5 659.5 630.9C656.3 633.4 660.7 642.4 654.3 644.8C648.0 647.3 632.3 645.8 621.2 645.8C610.2 645.8 595.8 645.6 588.1 644.8C580.4 644.1 578.0 643.0 574.9 641.5C571.7 640.1 570.5 639.3 569.1 636.2C567.7 633.1 566.6 627.7 566.6 623.0C566.6 618.3 566.9 611.8 569.1 608.1Z" fill="#696a6d" stroke="#111" stroke-width="1.15"/>
<path d="M571.6 619.7C571.8 616.6 574.3 612.6 576.5 609.7C578.7 606.8 581.2 604.4 584.8 602.3C588.4 600.2 593.6 599.2 598.0 597.3C602.5 595.4 606.0 592.1 611.3 590.7C616.5 589.3 624.0 589.0 629.5 589.0C635.0 589.0 640.3 589.5 644.4 590.7C648.5 591.9 651.3 593.9 654.3 596.5C657.4 599.1 659.4 602.7 662.6 606.4C665.8 610.1 673.4 615.8 673.4 618.8C673.4 621.9 666.9 622.6 662.6 624.6C658.3 626.7 652.4 629.1 647.7 631.3C643.0 633.5 639.4 636.1 634.5 637.9C629.5 639.7 624.0 641.5 617.9 642.0C611.8 642.6 603.8 642.2 598.0 641.2C592.3 640.2 587.0 638.4 583.1 636.2C579.3 634.0 576.8 630.7 574.9 627.9C572.9 625.2 571.3 622.7 571.6 619.7Z" fill="#808285" stroke="#111" stroke-width="1.15"/>
<path d="M575.7 619.7C576.2 616.9 578.6 612.5 581.5 609.7C584.4 607.0 588.1 605.6 593.1 603.1C598.0 600.6 605.2 596.4 611.3 594.8C617.4 593.3 624.3 593.6 629.5 594.0C634.7 594.4 639.2 595.2 642.7 597.3C646.3 599.4 648.8 603.0 651.0 606.4C653.2 609.9 656.5 615.0 656.0 618.0C655.4 621.0 651.6 622.2 647.7 624.6C643.9 627.1 637.8 630.7 632.8 632.9C627.8 635.1 623.4 637.2 617.9 637.9C612.4 638.6 605.2 638.2 599.7 637.1C594.2 635.9 588.4 633.1 584.8 631.3C581.2 629.5 579.7 628.2 578.2 626.3C576.7 624.4 575.1 622.4 575.7 619.7Z" fill="#939598" stroke="#111" stroke-width="1.15"/>
<path d="M580.7 619.7C581.2 617.5 583.0 613.9 585.6 611.4C588.3 608.9 592.1 606.8 596.4 604.8C600.7 602.7 606.0 599.9 611.3 599.0C616.5 598.0 623.2 598.3 627.8 599.0C632.5 599.7 636.4 601.0 639.4 603.1C642.5 605.2 644.4 608.9 646.1 611.4C647.7 613.9 650.2 615.8 649.4 618.0C648.5 620.2 644.7 622.6 641.1 624.6C637.5 626.7 632.3 628.9 627.8 630.4C623.4 631.9 619.3 633.3 614.6 633.7C609.9 634.2 604.1 633.9 599.7 632.9C595.3 631.9 591.0 629.3 588.1 627.9C585.2 626.6 583.6 626.0 582.3 624.6C581.1 623.3 580.1 621.9 580.7 619.7Z" fill="#a7a9ac" stroke="#111" stroke-width="1.15"/>
<path d="M587.3 618.8C587.3 616.8 589.6 613.6 592.3 611.4C594.9 609.2 599.3 607.1 603.0 605.6C606.7 604.1 610.5 602.7 614.6 602.3C618.7 601.9 624.0 602.1 627.8 603.1C631.7 604.1 635.3 606.0 637.8 608.1C640.3 610.1 643.0 613.0 642.7 615.5C642.5 618.0 639.2 621.0 636.1 623.0C633.1 624.9 628.4 626.0 624.5 627.1C620.7 628.2 616.8 629.5 612.9 629.6C609.1 629.7 604.8 628.9 601.4 627.9C597.9 627.0 594.6 625.3 592.3 623.8C589.9 622.3 587.3 620.9 587.3 618.8Z" fill="#bcbec0" stroke="#111" stroke-width="1.15"/>
<path d="M598.4 618.0C598.8 616.1 600.0 612.5 602.2 610.6C604.3 608.6 607.6 607.3 611.3 606.4C615.0 605.6 620.9 604.9 624.5 605.6C628.1 606.3 631.3 608.6 632.8 610.6C634.3 612.5 634.7 615.3 633.6 617.2C632.5 619.1 629.4 620.6 626.2 622.2C623.0 623.7 618.2 625.7 614.6 626.3C611.0 626.8 607.2 626.2 604.7 625.5C602.2 624.8 600.8 623.4 599.7 622.2C598.7 620.9 598.0 619.9 598.4 618.0Z" fill="#d9dadb" stroke="#111" stroke-width="1.15"/>
<path d="M608.0 613.9C608.3 612.6 610.7 610.4 612.9 609.7C615.2 609.0 618.7 609.0 621.2 609.7C623.7 610.4 627.3 612.6 627.8 613.9C628.4 615.1 626.5 616.5 624.5 617.2C622.6 617.9 618.5 618.0 616.3 618.0C614.1 618.0 612.7 617.9 611.3 617.2C609.9 616.5 607.7 615.1 608.0 613.9Z" fill="#ffffff" stroke="#111" stroke-width="0.6"/>
<path d="M568.4 409.8V651.7M683.5 409.8V651.7M798.6 409.8V651.7M913.7 409.8V651.7M557.6 647.0H936.7M557.6 604.6H936.7M557.6 562.3H936.7M557.6 520.0H936.7M557.6 477.6H936.7M557.6 435.2H936.7" stroke="#ffffff" stroke-opacity="0.04" stroke-width="1" fill="none"/>
</g>
<rect x="557.5" y="409.5" width="379.0" height="242.0" fill="none" stroke="#2b2b2b" stroke-width="0.9"/>
<path d="M568.4 651.7v-3.6M568.4 409.8v3.6M683.5 651.7v-3.6M683.5 409.8v3.6M798.6 651.7v-3.6M798.6 409.8v3.6M913.7 651.7v-3.6M913.7 409.8v3.6M557.6 647.0h3.6M936.7 647.0h-3.6M557.6 604.6h3.6M936.7 604.6h-3.6M557.6 562.3h3.6M936.7 562.3h-3.6M557.6 520.0h3.6M936.7 520.0h-3.6M557.6 477.6h3.6M936.7 477.6h-3.6M557.6 435.2h3.6M936.7 435.2h-3.6" stroke="#2b2b2b" stroke-width="0.85" fill="none"/>
<g fill="#fff" stroke="#111" stroke-width="0.85">
<circle cx="614.4" cy="562.3" r="3.35"/>
<circle cx="614.4" cy="553.8" r="3.35"/>
<circle cx="614.4" cy="545.4" r="3.35"/>
<circle cx="637.5" cy="562.3" r="3.35"/>
<circle cx="637.5" cy="553.8" r="3.35"/>
<circle cx="637.5" cy="536.9" r="3.35"/>
<circle cx="660.5" cy="562.3" r="3.35"/>
<circle cx="660.5" cy="553.8" r="3.35"/>
<circle cx="660.5" cy="545.4" r="3.35"/>
<circle cx="660.5" cy="536.9" r="3.35"/>
<circle cx="683.5" cy="562.3" r="3.35"/>
<circle cx="683.5" cy="553.8" r="3.35"/>
<circle cx="683.5" cy="545.4" r="3.35"/>
<circle cx="683.5" cy="536.9" r="3.35"/>
<circle cx="683.5" cy="520.0" r="3.35"/>
<circle cx="683.5" cy="494.5" r="3.35"/>
<circle cx="706.5" cy="562.3" r="3.35"/>
<circle cx="706.5" cy="553.8" r="3.35"/>
<circle cx="706.5" cy="545.4" r="3.35"/>
<circle cx="706.5" cy="528.4" r="3.35"/>
<circle cx="706.5" cy="503.0" r="3.35"/>
<circle cx="729.5" cy="638.5" r="3.35"/>
<circle cx="729.5" cy="630.1" r="3.35"/>
<circle cx="729.5" cy="621.6" r="3.35"/>
<circle cx="729.5" cy="613.1" r="3.35"/>
<circle cx="729.5" cy="604.6" r="3.35"/>
<circle cx="729.5" cy="596.2" r="3.35"/>
<circle cx="729.5" cy="587.7" r="3.35"/>
<circle cx="729.5" cy="579.2" r="3.35"/>
<circle cx="729.5" cy="570.8" r="3.35"/>
<circle cx="729.5" cy="562.3" r="3.35"/>
<circle cx="729.5" cy="553.8" r="3.35"/>
<circle cx="729.5" cy="545.4" r="3.35"/>
<circle cx="729.5" cy="536.9" r="3.35"/>
<circle cx="752.6" cy="621.6" r="3.35"/>
<circle cx="752.6" cy="613.1" r="3.35"/>
<circle cx="752.6" cy="604.6" r="3.35"/>
<circle cx="752.6" cy="587.7" r="3.35"/>
<circle cx="752.6" cy="570.8" r="3.35"/>
<circle cx="752.6" cy="562.3" r="3.35"/>
<circle cx="752.6" cy="553.8" r="3.35"/>
<circle cx="752.6" cy="536.9" r="3.35"/>
<circle cx="752.6" cy="528.4" r="3.35"/>
<circle cx="752.6" cy="511.5" r="3.35"/>
<circle cx="752.6" cy="494.5" r="3.35"/>
<circle cx="775.6" cy="630.1" r="3.35"/>
<circle cx="775.6" cy="621.6" r="3.35"/>
<circle cx="775.6" cy="613.1" r="3.35"/>
<circle cx="775.6" cy="596.2" r="3.35"/>
<circle cx="775.6" cy="587.7" r="3.35"/>
<circle cx="775.6" cy="562.3" r="3.35"/>
<circle cx="775.6" cy="528.4" r="3.35"/>
<circle cx="775.6" cy="494.5" r="3.35"/>
<circle cx="775.6" cy="418.3" r="3.35"/>
<circle cx="798.6" cy="621.6" r="3.35"/>
<circle cx="798.6" cy="604.6" r="3.35"/>
<circle cx="798.6" cy="596.2" r="3.35"/>
<circle cx="798.6" cy="579.2" r="3.35"/>
<circle cx="798.6" cy="562.3" r="3.35"/>
<circle cx="798.6" cy="553.8" r="3.35"/>
<circle cx="798.6" cy="528.4" r="3.35"/>
<circle cx="821.6" cy="621.6" r="3.35"/>
<circle cx="821.6" cy="604.6" r="3.35"/>
<circle cx="821.6" cy="596.2" r="3.35"/>
<circle cx="821.6" cy="587.7" r="3.35"/>
<circle cx="821.6" cy="545.4" r="3.35"/>
<circle cx="844.6" cy="570.8" r="3.35"/>
<circle cx="844.6" cy="486.1" r="3.35"/>
<circle cx="867.7" cy="520.0" r="3.35"/>
<circle cx="867.7" cy="477.6" r="3.35"/>
<circle cx="913.7" cy="587.7" r="3.35"/>
<circle cx="913.7" cy="528.4" r="3.35"/>
<circle cx="913.7" cy="503.0" r="3.35"/>
</g>
<g fill="#fff" stroke="#111" stroke-width="1.3">
<circle cx="568.4" cy="647.0" r="3.15"/>
<circle cx="568.4" cy="638.5" r="3.15"/>
<circle cx="568.4" cy="630.1" r="3.15"/>
<circle cx="568.4" cy="621.6" r="3.15"/>
<circle cx="568.4" cy="613.1" r="3.15"/>
<circle cx="568.4" cy="604.6" r="3.15"/>
<circle cx="568.4" cy="596.2" r="3.15"/>
<circle cx="591.4" cy="647.0" r="3.15"/>
<circle cx="591.4" cy="638.5" r="3.15"/>
<circle cx="591.4" cy="630.1" r="3.15"/>
<circle cx="591.4" cy="621.6" r="3.15"/>
<circle cx="591.4" cy="613.1" r="3.15"/>
<circle cx="591.4" cy="604.6" r="3.15"/>
<circle cx="591.4" cy="596.2" r="3.15"/>
<circle cx="591.4" cy="587.7" r="3.15"/>
<circle cx="591.4" cy="579.2" r="3.15"/>
<circle cx="591.4" cy="570.8" r="3.15"/>
<circle cx="614.4" cy="647.0" r="3.15"/>
<circle cx="614.4" cy="638.5" r="3.15"/>
<circle cx="614.4" cy="630.1" r="3.15"/>
<circle cx="614.4" cy="621.6" r="3.15"/>
<circle cx="614.4" cy="613.1" r="3.15"/>
<circle cx="614.4" cy="604.6" r="3.15"/>
<circle cx="614.4" cy="596.2" r="3.15"/>
<circle cx="614.4" cy="587.7" r="3.15"/>
<circle cx="614.4" cy="579.2" r="3.15"/>
<circle cx="614.4" cy="570.8" r="3.15"/>
<circle cx="637.5" cy="647.0" r="3.15"/>
<circle cx="637.5" cy="638.5" r="3.15"/>
<circle cx="637.5" cy="630.1" r="3.15"/>
<circle cx="637.5" cy="621.6" r="3.15"/>
<circle cx="637.5" cy="613.1" r="3.15"/>
<circle cx="637.5" cy="604.6" r="3.15"/>
<circle cx="637.5" cy="596.2" r="3.15"/>
<circle cx="637.5" cy="587.7" r="3.15"/>
<circle cx="637.5" cy="579.2" r="3.15"/>
<circle cx="637.5" cy="570.8" r="3.15"/>
<circle cx="660.5" cy="647.0" r="3.15"/>
<circle cx="660.5" cy="638.5" r="3.15"/>
<circle cx="660.5" cy="630.1" r="3.15"/>
<circle cx="660.5" cy="621.6" r="3.15"/>
<circle cx="660.5" cy="613.1" r="3.15"/>
<circle cx="660.5" cy="604.6" r="3.15"/>
<circle cx="660.5" cy="596.2" r="3.15"/>
<circle cx="660.5" cy="587.7" r="3.15"/>
<circle cx="660.5" cy="579.2" r="3.15"/>
<circle cx="660.5" cy="570.8" r="3.15"/>
<circle cx="683.5" cy="638.5" r="3.15"/>
<circle cx="683.5" cy="630.1" r="3.15"/>
<circle cx="683.5" cy="621.6" r="3.15"/>
<circle cx="683.5" cy="613.1" r="3.15"/>
<circle cx="683.5" cy="604.6" r="3.15"/>
<circle cx="683.5" cy="596.2" r="3.15"/>
<circle cx="683.5" cy="587.7" r="3.15"/>
<circle cx="683.5" cy="579.2" r="3.15"/>
<circle cx="683.5" cy="570.8" r="3.15"/>
<circle cx="706.5" cy="647.0" r="3.15"/>
<circle cx="706.5" cy="638.5" r="3.15"/>
<circle cx="706.5" cy="630.1" r="3.15"/>
<circle cx="706.5" cy="621.6" r="3.15"/>
<circle cx="706.5" cy="613.1" r="3.15"/>
<circle cx="706.5" cy="604.6" r="3.15"/>
<circle cx="706.5" cy="596.2" r="3.15"/>
<circle cx="706.5" cy="587.7" r="3.15"/>
<circle cx="706.5" cy="579.2" r="3.15"/>
</g>
<g class="tk">
<text x="568.4" y="671.1" text-anchor="middle">0</text>
<text x="683.5" y="671.1" text-anchor="middle">5</text>
<text x="798.6" y="671.1" text-anchor="middle">10</text>
<text x="913.7" y="671.1" text-anchor="middle">15</text>
<text x="552.1" y="652.5" text-anchor="end">0</text>
<text x="552.1" y="610.1" text-anchor="end">5</text>
<text x="552.1" y="567.8" text-anchor="end">10</text>
<text x="552.1" y="525.5" text-anchor="end">15</text>
<text x="552.1" y="483.1" text-anchor="end">20</text>
<text x="552.1" y="440.8" text-anchor="end">25</text>
</g>
<text class="pl" x="21.8" y="18.9" text-anchor="start">(a)</text>
<text class="pl" x="510.3" y="18.9" text-anchor="start">(b)</text>
<text class="pl" x="19.6" y="382.2" text-anchor="start">(c)</text>
<text class="pl" x="491.4" y="382.2" text-anchor="start">(d)</text>
<text class="al" x="266.0" y="338.5" text-anchor="middle">Number of Left Turns Pre-Takeoff</text>
<text class="al" x="747.0" y="340.5" text-anchor="middle">Number of Left Turns Post-Landing</text>
<text class="al" x="265.9" y="690.0" text-anchor="middle">Total Number of Pre-Takeoff Turns</text>
<text class="al" x="745.0" y="692.6" text-anchor="middle">Total Number of Post-Landing Turns</text>
<text class="al" x="47.5" y="179.8" text-anchor="middle" transform="rotate(-90 47.5 179.8)">Number of Right Turns Pre-Takeoff</text>
<text class="al" x="527.6" y="178.8" text-anchor="middle" transform="rotate(-90 527.6 178.8)">Number of Right Turns Post-Landing</text>
<text class="al" x="26.0" y="532.5" text-anchor="middle" transform="rotate(-90 26.0 532.5)">Total Number of Pre-Takeoff</text>
<text class="al" x="47.5" y="529.0" text-anchor="middle" transform="rotate(-90 47.5 529.0)">Braking Occurrences</text>
<text class="al" x="506.2" y="533.3" text-anchor="middle" transform="rotate(-90 506.2 533.3)">Total Number of Post-Landing</text>
<text class="al" x="526.3" y="531.0" text-anchor="middle" transform="rotate(-90 526.3 531.0)">Braking Occurrences</text>
</svg>
</body></html>
